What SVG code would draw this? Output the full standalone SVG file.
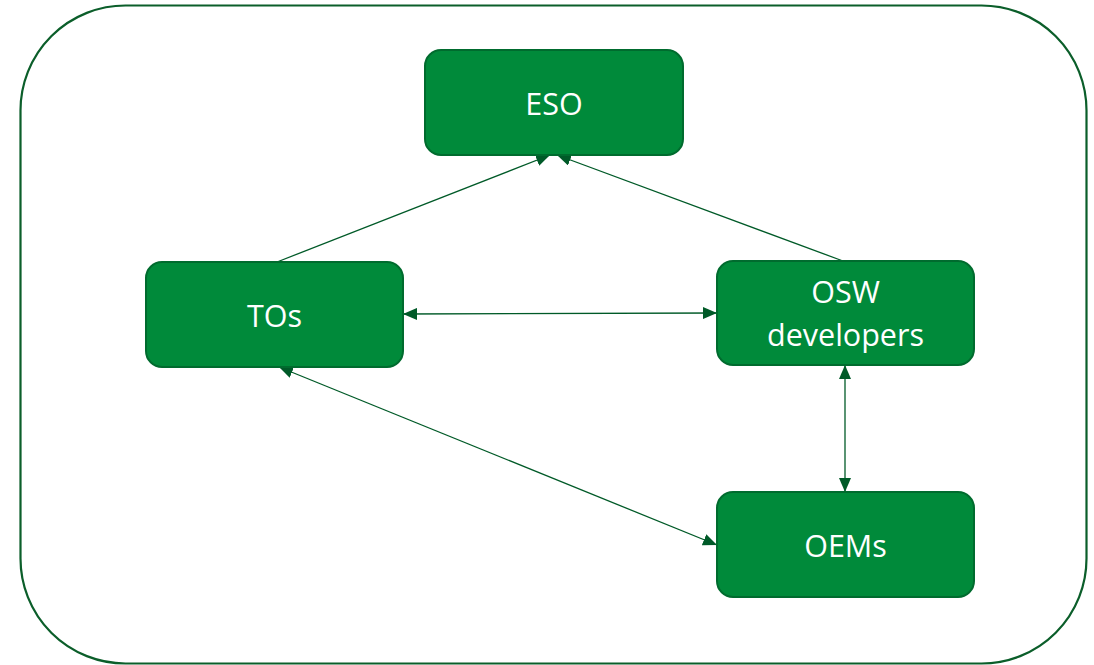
<svg xmlns="http://www.w3.org/2000/svg" width="1094" height="665" viewBox="0 0 1094 665">
<defs>
<style>
.frame{fill:#fff;stroke:#0B5E2A;stroke-width:2.2}
.node rect{fill:#008A3A;stroke:#006B2E;stroke-width:2}
.node text{fill:#fff;font-family:"Open Sans","Liberation Sans",sans-serif;font-size:30.5px;text-anchor:middle}
.edge{stroke:#005A28;stroke-width:1.3;fill:none}
</style>
<marker id="ah" viewBox="0 0 14 12" refX="14" refY="6" markerWidth="14" markerHeight="12" markerUnits="userSpaceOnUse" orient="auto-start-reverse">
<path d="M0,0 L14,6 L0,12 Z" fill="#005A28"/>
</marker>
</defs>
<rect class="frame" x="20.5" y="5.5" width="1066" height="658" rx="105" ry="105"/>
<g id="connectors">
<line class="edge" x1="277" y1="262" x2="550" y2="155" marker-end="url(#ah)"/>
<line class="edge" x1="843" y1="261" x2="557" y2="155" marker-end="url(#ah)"/>
<line class="edge" x1="403" y1="314" x2="717" y2="313" marker-start="url(#ah)" marker-end="url(#ah)"/>
<line class="edge" x1="279" y1="367" x2="717" y2="545" marker-start="url(#ah)" marker-end="url(#ah)"/>
<line class="edge" x1="845" y1="365" x2="845" y2="492" marker-start="url(#ah)" marker-end="url(#ah)"/>
</g>
<g id="node-eso" class="node">
<rect x="425" y="50" width="258" height="105" rx="16"/>
<text x="554" y="115">ESO</text>
</g>
<g id="node-tos" class="node">
<rect x="146" y="262" width="257" height="105" rx="16"/>
<text x="274.5" y="327">TOs</text>
</g>
<g id="node-osw" class="node">
<rect x="717" y="261" width="257" height="104" rx="16"/>
<text x="845.5" y="303">OSW</text>
<text x="845.5" y="346">developers</text>
</g>
<g id="node-oems" class="node">
<rect x="717" y="492" width="257" height="105" rx="16"/>
<text x="845.5" y="557">OEMs</text>
</g>
</svg>
